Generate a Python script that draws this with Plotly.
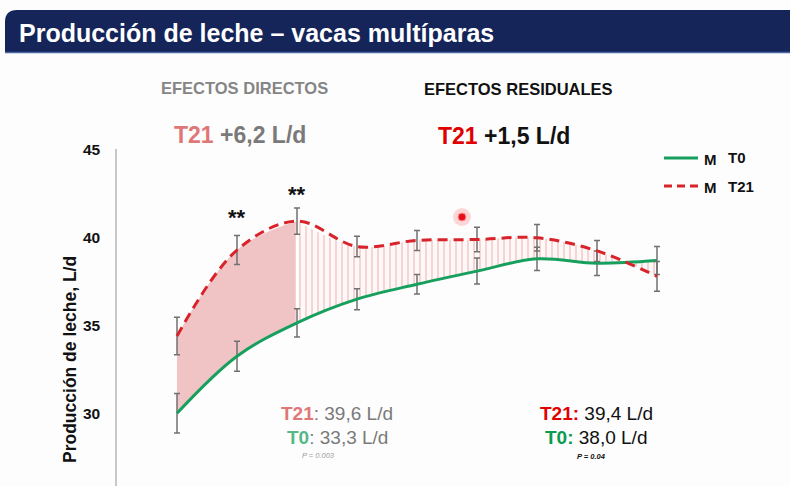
import plotly.graph_objects as go

# ---------------- data ----------------
weeks = [1, 2, 3, 4, 5, 6, 7, 8, 9]
t0 = [30.0, 33.25, 35.15, 36.5, 37.35, 38.1, 38.8, 38.55, 38.7]
t0_err = [1.13, 0.85, 0.8, 0.6, 0.55, 0.74, 0.66, 0.7, 0.8]
t21 = [34.4, 39.3, 40.95, 39.5, 39.85, 39.9, 40.0, 39.25, 37.8]
t21_err = [1.07, 0.83, 0.75, 0.58, 0.57, 0.7, 0.76, 0.6, 0.85]
y_ticks = [30, 35, 40, 45]
split_idx = 2  # end of direct-effect period (week 3)

W, H = 790, 486
ML, MR, MT, MB = 117, 13, 149, 0
PW, PH = W - ML - MR, H - MT - MB


def px(x):
    return (x - ML) / PW


def py(y):
    return (H - MB - y) / PH


FONT = "Arial, Liberation Sans, sans-serif"
GREEN = "#17a05d"
RED = "#d8232a"
GRAY_EB = "#707070"

fig = go.Figure()

# solid fill (direct effects)
fig.add_trace(go.Scatter(x=weeks[:split_idx + 1], y=t0[:split_idx + 1], mode="lines",
                         line=dict(width=0, shape="spline", color="rgba(0,0,0,0)"),
                         showlegend=False, hoverinfo="skip"))
fig.add_trace(go.Scatter(x=weeks[:split_idx + 1], y=t21[:split_idx + 1], mode="lines",
                         line=dict(width=0, shape="spline", color="rgba(0,0,0,0)"),
                         fill="tonexty", fillcolor="rgba(228,140,140,0.5)",
                         showlegend=False, hoverinfo="skip"))
# hatched fill (residual effects)
fig.add_trace(go.Scatter(x=weeks[split_idx:], y=t0[split_idx:], mode="lines",
                         line=dict(width=0, shape="spline", color="rgba(0,0,0,0)"),
                         showlegend=False, hoverinfo="skip"))
fig.add_trace(go.Scatter(x=weeks[split_idx:], y=t21[split_idx:], mode="lines",
                         line=dict(width=0, shape="spline", color="rgba(0,0,0,0)"),
                         fill="tonexty",
                         fillpattern=dict(shape="|", size=6, solidity=0.2,
                                          fgcolor="rgba(228,140,140,0.55)",
                                          bgcolor="rgba(255,238,238,0.35)",
                                          fillmode="replace"),
                         showlegend=False, hoverinfo="skip"))
# white separator between the two periods
fig.add_trace(go.Scatter(x=[weeks[split_idx], weeks[split_idx]],
                         y=[t0[split_idx], t21[split_idx]], mode="lines",
                         line=dict(color="white", width=2.5),
                         showlegend=False, hoverinfo="skip"))

# main lines with error bars
fig.add_trace(go.Scatter(x=weeks, y=t0, mode="lines",
                         line=dict(color=GREEN, width=3, shape="spline"),
                         error_y=dict(type="data", array=t0_err, color=GRAY_EB,
                                      thickness=1.5, width=3),
                         showlegend=False, hoverinfo="skip"))
fig.add_trace(go.Scatter(x=weeks, y=t21, mode="lines",
                         line=dict(color=RED, width=3, shape="spline", dash="10px,6px"),
                         error_y=dict(type="data", array=t21_err, color=GRAY_EB,
                                      thickness=1.5, width=3),
                         showlegend=False, hoverinfo="skip"))

shapes = []
# title bar
r = 12
path = (f"M {px(5)},{py(53)} L {px(5)},{py(10 + r)} "
        f"Q {px(5)},{py(10)} {px(5 + r)},{py(10)} "
        f"L {px(790)},{py(10)} L {px(790)},{py(53)} Z")
shapes.append(dict(type="path", xref="paper", yref="paper", path=path,
                   fillcolor="#15255a", line=dict(width=0), layer="above"))
shapes.append(dict(type="line", xref="paper", yref="paper", x0=px(5), x1=px(790),
                   y0=py(52.5), y1=py(52.5), line=dict(color="#4a68a8", width=1.5)))
# legend samples
shapes.append(dict(type="line", xref="paper", yref="paper", x0=px(664), x1=px(698),
                   y0=py(158), y1=py(158), line=dict(color=GREEN, width=3)))
shapes.append(dict(type="line", xref="paper", yref="paper", x0=px(664), x1=px(700),
                   y0=py(186), y1=py(186), line=dict(color=RED, width=3, dash="8px,5px")))
# laser pointer dot
shapes.append(dict(type="circle", xref="paper", yref="paper", x0=px(453), x1=px(471),
                   y0=py(226), y1=py(208), fillcolor="rgba(255,80,80,0.22)",
                   line=dict(width=0)))
shapes.append(dict(type="circle", xref="paper", yref="paper", x0=px(458), x1=px(466),
                   y0=py(221), y1=py(213), fillcolor="#e8101a",
                   line=dict(color="#ff9090", width=1)))

ann = []


def text(x, y, s, size, color="black", xanchor="center", angle=0):
    ann.append(dict(xref="paper", yref="paper", x=px(x), y=py(y), text=s,
                    showarrow=False, xanchor=xanchor, yanchor="middle",
                    textangle=angle, font=dict(family=FONT, size=size, color=color)))


text(17, 33, "<b>Producción de leche – vacas multíparas</b>", 25, "white", "left")
text(244, 88, "<b>EFECTOS DIRECTOS</b>", 16.5, "#858585")
text(518, 89, "<b>EFECTOS RESIDUALES</b>", 16.5, "#111111")
text(240, 135, "<b><span style='color:#e07777'>T21</span> +6,2 L/d</b>", 23, "#7a7a7a")
text(504, 136, "<b><span style='color:#e00000'>T21</span> +1,5 L/d</b>", 23, "#111111")
text(237, 217, "<b>**</b>", 22, "#111111")
text(297, 194, "<b>**</b>", 22, "#111111")
text(337, 413, "<b><span style='color:#e07777'>T21</span></b>: 39,6 L/d", 19, "#7a7a7a")
text(337, 437, "<b><span style='color:#55b889'>T0</span></b>: 33,3 L/d", 19, "#7a7a7a")
text(318, 455, "<i>P = 0.003</i>", 7.5, "#9a9a9a")
text(596, 413, "<b><span style='color:#e00000'>T21:</span></b> 39,4 L/d", 19, "#111111")
text(596, 437, "<b><span style='color:#0a9a50'>T0:</span></b> 38,0 L/d", 19, "#111111")
text(591, 456, "<b><i>P = 0.04</i></b>", 7.5, "#111111")
text(70, 360, "<b>Producción de leche, L/d</b>", 17.5, "#111111", angle=-90)
text(702, 159, "<b>M</b>", 15, "#111111", "left")
text(726, 157, "<b>T0</b>", 15, "#111111", "left")
text(702, 187, "<b>M</b>", 15, "#111111", "left")
text(726, 186, "<b>T21</b>", 15, "#111111", "left")

fig.update_layout(
    width=W, height=H,
    margin=dict(l=ML, r=MR, t=MT, b=MB),
    paper_bgcolor="#fdfdfd", plot_bgcolor="rgba(0,0,0,0)",
    showlegend=False,
    shapes=shapes, annotations=ann,
    font=dict(family=FONT),
    xaxis=dict(range=[0, PW / 60], visible=False, fixedrange=True),
    yaxis=dict(range=[25.855, 45.057], tickvals=y_ticks, showgrid=False,
               zeroline=False, showline=True, linecolor="#c8c8c8", linewidth=1.5,
               ticks="", ticklabelstandoff=12,
               tickfont=dict(family=FONT, size=15.5, color="#111111", weight="bold"),
               fixedrange=True),
)

fig.write_html("out.html")
